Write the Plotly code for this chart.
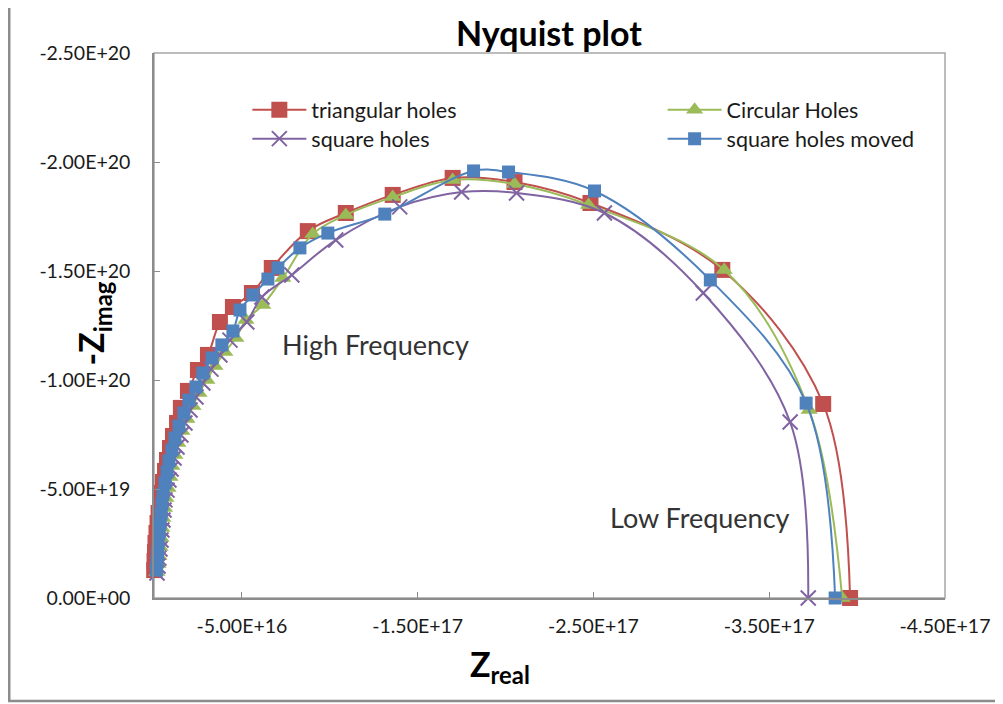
import plotly.graph_objects as go

# ---------------- data ----------------
tri_x = [-3.960e17, -3.807e17, -3.233e17, -2.483e17, -2.051e17, -1.699e17, -1.358e17, -1.091e17,
         -8.75e16, -6.70e16, -5.57e16, -4.49e16, -3.75e16, -3.07e16, -2.50e16, -1.93e16,
         -1.53e16, -1.31e16, -1.08e16, -9.1e15, -7.4e15, -6.25e15, -5.1e15, -4.0e15,
         -3.4e15, -2.6e15, -2.0e15, -1.4e15, -8.5e14, -5.7e14, -3.0e14, -1.0e14]
tri_y = [0.0, -8.90e19, -1.505e20, -1.812e20, -1.908e20, -1.927e20, -1.849e20, -1.766e20,
         -1.683e20, -1.514e20, -1.399e20, -1.335e20, -1.266e20, -1.115e20, -1.046e20, -9.50e19,
         -8.72e19, -8.03e19, -7.43e19, -6.88e19, -6.33e19, -5.83e19, -5.32e19, -4.82e19,
         -4.36e19, -3.90e19, -3.44e19, -2.98e19, -2.52e19, -2.11e19, -1.70e19, -1.28e19]

circ_x = [-3.915e17, -3.727e17, -3.244e17, -2.472e17, -2.051e17, -1.699e17, -1.358e17, -1.091e17,
          -9.03e16, -7.33e16, -6.19e16, -5.23e16, -4.66e16, -4.03e16, -3.47e16, -3.01e16,
          -2.56e16, -2.22e16, -1.875e16, -1.59e16, -1.36e16, -1.19e16, -1.02e16, -9.1e15,
          -8.0e15, -6.8e15, -6.0e15, -5.1e15, -4.5e15, -4.0e15, -3.4e15, -2.8e15, -2.3e15, -1.7e15]
circ_y = [0.0, -8.62e19, -1.505e20, -1.803e20, -1.899e20, -1.917e20, -1.839e20, -1.757e20,
          -1.670e20, -1.468e20, -1.344e20, -1.275e20, -1.193e20, -1.128e20, -1.064e20, -1.000e20,
          -9.40e19, -8.81e19, -8.21e19, -7.66e19, -7.11e19, -6.56e19, -6.06e19, -5.55e19,
          -5.05e19, -4.59e19, -4.13e19, -3.67e19, -3.21e19, -2.75e19, -2.34e19, -1.93e19, -1.56e19, -1.19e19]

sq_x = [-3.722e17, -3.619e17, -3.125e17, -2.5625e17, -2.0625e17, -1.750e17, -1.398e17, -1.034e17,
        -7.84e16, -6.14e16, -5.28e16, -4.32e16, -3.75e16, -3.24e16, -2.78e16, -2.39e16,
        -2.05e16, -1.76e16, -1.53e16, -1.31e16, -1.14e16, -9.7e15, -8.5e15, -7.4e15,
        -6.25e15, -5.7e15, -5.1e15, -4.5e15, -4.0e15, -3.4e15, -2.8e15, -2.3e15, -1.7e15]
sq_y = [0.0, -8.07e19, -1.399e20, -1.766e20, -1.858e20, -1.862e20, -1.794e20, -1.642e20,
        -1.482e20, -1.381e20, -1.266e20, -1.183e20, -1.115e20, -1.050e20, -9.86e19, -9.22e19,
        -8.62e19, -8.03e19, -7.48e19, -6.93e19, -6.42e19, -5.92e19, -5.41e19, -4.95e19,
        -4.50e19, -4.04e19, -3.58e19, -3.12e19, -2.66e19, -2.25e19, -1.83e19, -1.47e19, -1.15e19]

mov_x = [-3.875e17, -3.710e17, -3.165e17, -2.506e17, -2.017e17, -1.818e17, -1.313e17, -9.89e16,
         -8.30e16, -7.05e16, -6.48e16, -5.625e16, -4.89e16, -4.49e16, -3.86e16, -3.30e16,
         -2.78e16, -2.39e16, -1.99e16, -1.70e16, -1.42e16, -1.19e16, -1.02e16, -8.5e15,
         -7.4e15, -6.25e15, -5.1e15, -4.5e15, -4.0e15, -3.4e15, -2.8e15, -2.3e15, -2.0e15, -1.7e15, -1.4e15]
mov_y = [0.0, -8.94e19, -1.459e20, -1.867e20, -1.954e20, -1.959e20, -1.761e20, -1.674e20,
         -1.606e20, -1.514e20, -1.463e20, -1.390e20, -1.321e20, -1.225e20, -1.161e20, -1.101e20,
         -1.032e20, -9.68e19, -9.08e19, -8.49e19, -7.89e19, -7.34e19, -6.79e19, -6.28e19,
         -5.78e19, -5.28e19, -4.77e19, -4.31e19, -3.85e19, -3.39e19, -2.94e19, -2.48e19, -2.06e19, -1.65e19, -1.28e19]

x_ticks = [-5e16, -1.5e17, -2.5e17, -3.5e17, -4.5e17]
x_tick_text = ["-5.00E+16", "-1.50E+17", "-2.50E+17", "-3.50E+17", "-4.50E+17"]
y_ticks = [0, -5e19, -1e20, -1.5e20, -2e20, -2.5e20]
y_tick_text = ["0.00E+00", "-5.00E+19", "-1.00E+20", "-1.50E+20", "-2.00E+20", "-2.50E+20"]

RED, GREEN, PURPLE, BLUE = "#C0504D", "#9BBB59", "#8064A2", "#4F81BD"
FONT = "Lato"

fig = go.Figure()
fig.add_trace(go.Scatter(x=tri_x, y=tri_y, name="triangular holes", mode="lines+markers",
                         line=dict(color=RED, width=2, shape="spline"),
                         marker=dict(symbol="square", size=16, color=RED),
                         cliponaxis=False, legend="legend"))
fig.add_trace(go.Scatter(x=circ_x, y=circ_y, name="Circular Holes", mode="lines+markers",
                         line=dict(color=GREEN, width=2, shape="spline"),
                         marker=dict(symbol="triangle-up", size=15, color=GREEN),
                         cliponaxis=False, legend="legend2"))
fig.add_trace(go.Scatter(x=sq_x, y=sq_y, name="square holes", mode="lines+markers",
                         line=dict(color=PURPLE, width=2, shape="spline"),
                         marker=dict(symbol="x-thin", size=15, color=PURPLE,
                                     line=dict(color=PURPLE, width=2)),
                         cliponaxis=False, legend="legend3"))
fig.add_trace(go.Scatter(x=mov_x, y=mov_y, name="square holes moved", mode="lines+markers",
                         line=dict(color=BLUE, width=2, shape="spline"),
                         marker=dict(symbol="square", size=13, color=BLUE),
                         cliponaxis=False, legend="legend4"))

axis_common = dict(showgrid=False, zeroline=False, showline=True, linecolor="#8C8C8C",
                   linewidth=1.5, ticks="inside", ticklen=6, tickcolor="#8C8C8C",
                   tickfont=dict(family=FONT, size=19.5, color="#1a1a1a"), mirror=False)
fig.update_xaxes(range=[0, -4.5e17], tickvals=x_ticks, ticktext=x_tick_text,
                 ticklabelstandoff=10, **axis_common)
fig.update_yaxes(range=[0, -2.5e20], tickvals=y_ticks, ticktext=y_tick_text,
                 ticklabelstandoff=18, **axis_common)

def leg(xp, yp):
    return dict(x=xp, y=yp, xanchor="left", yanchor="middle", bgcolor="rgba(0,0,0,0)",
                font=dict(family=FONT, size=21.5, color="#1a1a1a"), itemwidth=54)

fig.update_layout(
    width=995, height=696,
    margin=dict(l=146, r=58, t=45, b=106),
    paper_bgcolor="white", plot_bgcolor="white",
    showlegend=True,
    legend=leg(0.118, 0.8960),
    legend2=leg(0.643, 0.8960),
    legend3=leg(0.118, 0.8428),
    legend4=leg(0.643, 0.8428),
    font=dict(family=FONT),
)

# plot-area border and outer chart border
fig.add_shape(type="rect", xref="paper", yref="paper", x0=0, x1=1, y0=0, y1=1,
              line=dict(color="#A6A6A6", width=1.5), layer="below")
fig.add_shape(type="rect", xref="paper", yref="paper", x0=-0.183, x1=1.09, y0=-0.189, y1=1.0908,
              line=dict(color="#8C8C8C", width=2.5), layer="below")

# titles
fig.add_annotation(text="<b>Nyquist plot</b>", xref="paper", yref="paper", x=0.4994, y=1.0385,
                   showarrow=False, font=dict(family=FONT, size=34, color="black"),
                   xanchor="center", yanchor="middle")
fig.add_annotation(text="<b>-Z<sub>imag</sub></b>", xref="paper", yref="paper", x=-0.0765, y=0.5046,
                   showarrow=False, textangle=-90, font=dict(family=FONT, size=34, color="black"),
                   xanchor="center", yanchor="middle")
fig.add_annotation(text="<b>Z<sub>real</sub></b>", xref="paper", yref="paper", x=0.437, y=-0.125,
                   showarrow=False, font=dict(family=FONT, size=34, color="black"),
                   xanchor="center", yanchor="middle")
fig.add_annotation(text="High Frequency", x=-1.261e17, y=-1.161e20, showarrow=False,
                   font=dict(family=FONT, size=27, color="#333333"), xanchor="center", yanchor="middle")
fig.add_annotation(text="Low Frequency", x=-3.108e17, y=-3.67e19, showarrow=False,
                   font=dict(family=FONT, size=27, color="#333333"), xanchor="center", yanchor="middle")

fig.write_html("out.html")
